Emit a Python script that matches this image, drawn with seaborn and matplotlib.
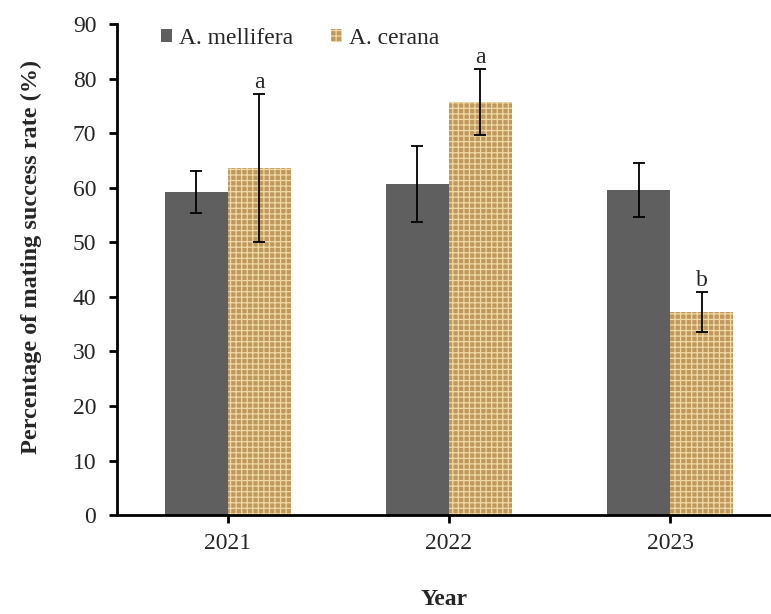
import pandas as pd
import numpy as np
import matplotlib.pyplot as plt
import seaborn as sns

# Values
years = ['2021', '2022', '2023']
species = ['A. mellifera', 'A. cerana']
mellifera_mean = [59.2, 60.7, 59.6]
mellifera_err = [3.8, 7.0, 5.0]
cerana_mean = [63.6, 75.7, 37.2]
cerana_err = [13.5, 6.1, 3.6]
letters = ['a', 'a', 'b']

df = pd.DataFrame({
    'Year': years * 2,
    'Species': [species[0]] * 3 + [species[1]] * 3,
    'Rate': mellifera_mean + cerana_mean,
})

sns.set_style('white')
plt.rcParams['font.family'] = ['Liberation Serif', 'DejaVu Serif']
plt.rcParams['hatch.linewidth'] = 0.9

fig = plt.figure(figsize=(7.71, 6.14), dpi=100)
ax = fig.add_axes([0.152, 0.161, 0.848, 0.8])

sns.barplot(data=df, x='Year', y='Rate', hue='Species', order=years,
            hue_order=species, palette=['#5f5f5f', '#c9a466'],
            width=0.57, errorbar=None, legend=False, ax=ax)

# burlap-like look for A. cerana bars
for p in ax.containers[1]:
    p.set_facecolor('#bf985e')
    p.set_edgecolor('#f0d9a4')
    p.set_hatch('+++')
    p.set_linewidth(0)
for p in ax.containers[0]:
    p.set_linewidth(0)

# error bars and significance letters
for cont, means, errs in zip(ax.containers, [mellifera_mean, cerana_mean],
                             [mellifera_err, cerana_err]):
    xs = [p.get_x() + p.get_width() / 2 for p in cont]
    ax.errorbar(xs, means, yerr=errs, fmt='none', ecolor='black',
                elinewidth=1.3, capsize=4, capthick=1.3, zorder=5)
xs_c = [p.get_x() + p.get_width() / 2 for p in ax.containers[1]]
for x, m, e, t in zip(xs_c, cerana_mean, cerana_err, letters):
    ax.text(x, m + e + 0.2, t, ha='center', va='bottom', fontsize=17)

ax.set_xlim(-0.5, 2.456)
ax.set_ylim(0, 90)
ax.set_yticks(np.arange(0, 91, 10))
ax.tick_params(axis='both', labelsize=17, direction='out', length=6,
               width=2, color='black', left=True, bottom=True)
ax.tick_params(axis='y', pad=9)
ax.tick_params(axis='x', pad=7)
for s in ['top', 'right']:
    ax.spines[s].set_visible(False)
for s in ['left', 'bottom']:
    ax.spines[s].set_linewidth(2)
    ax.spines[s].set_color('black')

ax.set_xlabel('Year', fontsize=17, fontweight='bold', labelpad=25)
ax.set_ylabel('Percentage of mating success rate (%)', fontsize=17.5,
              fontweight='bold')
ax.yaxis.set_label_coords(-0.115, 0.525)

ax.legend([ax.containers[0][0], ax.containers[1][0]], species,
          loc='upper left', bbox_to_anchor=(0.035, 1.035), ncol=2,
          frameon=False, fontsize=17, handlelength=0.45, handleheight=0.45,
          handletextpad=0.3, columnspacing=1.6)

fig.savefig('out.png', dpi=100)
